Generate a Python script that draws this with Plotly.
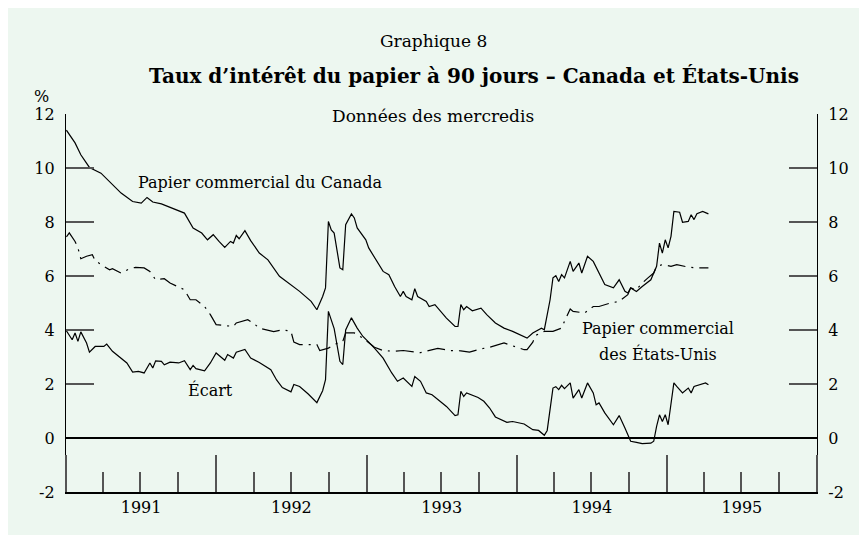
import pandas as pd
import plotly.graph_objects as go

# Weekly (Wednesday) observations, indexed by week number from 2 Jan 1991
start = pd.Timestamp("1991-01-02")

can_weeks = [0, 3, 5, 8, 12, 16, 19, 23, 26, 28, 30, 33, 35, 38, 41, 44, 47, 49, 51, 53,
             55, 57, 58, 59, 60, 62, 64, 67, 70, 74, 78, 81, 85, 87, 89, 90, 91, 92, 93, 95,
             96, 97, 99, 100, 101, 104, 105, 107, 108, 110, 112, 114, 116, 117, 118, 120, 121, 122, 125, 126,
             128, 130, 132, 135, 136, 137, 138, 139, 141, 144, 146, 149, 152, 155, 160, 162, 165, 166, 168, 169,
             170, 171, 172, 173, 175, 176, 178, 179, 181, 183, 185, 187, 190, 192, 194, 195, 196, 198, 200, 203,
             205, 206, 207, 208, 209, 210, 211, 213, 214, 216, 217, 218, 219, 221, 223]
can_rates = [11.40, 10.93, 10.49, 10.02, 9.81, 9.38, 9.07, 8.76, 8.70, 8.91, 8.74, 8.67, 8.58, 8.46, 8.33, 7.78, 7.59, 7.34, 7.53, 7.28,
             7.06, 7.28, 7.22, 7.50, 7.38, 7.68, 7.31, 6.85, 6.60, 5.99, 5.68, 5.43, 5.06, 4.75, 5.24, 5.56, 8.02, 7.71, 7.59, 6.30,
             6.23, 7.90, 8.30, 8.15, 7.78, 7.34, 7.04, 6.67, 6.54, 6.17, 6.05, 5.61, 5.24, 5.43, 5.24, 5.12, 5.53, 5.24, 5.06, 4.87,
             4.94, 4.69, 4.44, 4.13, 4.13, 4.94, 4.75, 4.87, 4.71, 4.81, 4.57, 4.26, 4.07, 3.95, 3.70, 3.89, 4.07, 4.01, 5.12, 5.93,
             6.01, 5.80, 6.05, 5.93, 6.54, 6.17, 6.48, 6.11, 6.73, 6.54, 6.11, 5.68, 5.56, 5.86, 5.43, 5.37, 5.56, 5.43, 5.61, 5.86,
             6.36, 7.22, 6.85, 7.34, 7.04, 7.47, 8.39, 8.36, 7.99, 8.02, 8.27, 8.09, 8.31, 8.39, 8.30]

us_weeks = [0, 1, 3, 4, 5, 7, 9, 10, 13, 15, 16, 19, 22, 24, 27, 29, 31, 34, 36, 39,
            41, 43, 45, 48, 50, 52, 58, 59, 63, 65, 67, 72, 75, 78, 79, 81, 85, 87, 88, 91,
            93, 96, 97, 100, 103, 107, 110, 114, 117, 121, 123, 129, 133, 137, 140, 144, 147, 152, 156, 159,
            160, 162, 163, 166, 169, 172, 173, 175, 176, 180, 183, 185, 189, 192, 195, 196, 198, 200, 202, 204,
            205, 207, 210, 212, 216, 219, 223]
us_rates = [7.45, 7.60, 7.28, 7.04, 6.64, 6.73, 6.79, 6.57, 6.36, 6.23, 6.27, 6.11, 6.27, 6.32, 6.30, 6.17, 5.86, 5.90, 5.74, 5.58,
            5.49, 5.12, 5.12, 4.87, 4.57, 4.20, 4.13, 4.26, 4.38, 4.25, 4.07, 3.94, 4.01, 3.95, 3.55, 3.46, 3.46, 3.46, 3.24, 3.33,
            3.46, 3.58, 3.89, 3.89, 3.70, 3.36, 3.24, 3.21, 3.24, 3.18, 3.16, 3.32, 3.24, 3.23, 3.18, 3.30, 3.36, 3.52, 3.37, 3.27,
            3.27, 3.55, 3.80, 3.95, 3.95, 4.07, 4.32, 4.78, 4.69, 4.63, 4.87, 4.87, 5.00, 5.06, 5.31, 5.56, 5.49, 5.74, 5.93, 6.11,
            6.36, 6.42, 6.36, 6.42, 6.33, 6.30, 6.30]

spread_weeks = [0, 2, 3, 4, 5, 7, 8, 10, 13, 14, 16, 19, 21, 23, 25, 27, 29, 30, 31, 33,
                34, 36, 39, 41, 43, 44, 45, 48, 50, 52, 55, 56, 58, 59, 62, 64, 67, 71, 73, 75,
                78, 79, 81, 84, 87, 89, 90, 91, 92, 93, 95, 96, 97, 99, 101, 102, 103, 105, 107, 110,
                113, 115, 117, 120, 121, 123, 125, 127, 130, 132, 135, 136, 137, 138, 139, 143, 145, 147, 149, 153,
                155, 159, 162, 164, 166, 167, 169, 170, 171, 172, 173, 175, 176, 178, 179, 181, 183, 184, 185, 187,
                190, 192, 194, 196, 198, 200, 203, 204, 205, 206, 207, 208, 209, 211, 212, 214, 216, 217, 218, 220,
                222, 223]
spread_vals = [3.97, 3.64, 3.89, 3.58, 3.93, 3.52, 3.18, 3.39, 3.39, 3.48, 3.21, 2.96, 2.78, 2.44, 2.47, 2.41, 2.78, 2.59, 2.86, 2.84,
               2.71, 2.81, 2.78, 2.86, 2.53, 2.69, 2.57, 2.49, 2.78, 3.15, 2.88, 3.09, 2.96, 3.18, 3.28, 2.96, 2.80, 2.53, 2.15, 1.87,
               1.71, 1.98, 1.91, 1.63, 1.31, 1.75, 2.16, 4.69, 4.38, 4.05, 2.84, 2.72, 4.00, 4.45, 4.07, 3.89, 3.76, 3.55, 3.33, 2.96,
               2.41, 2.10, 2.22, 1.91, 2.28, 2.10, 1.67, 1.60, 1.36, 1.17, 0.83, 0.86, 1.73, 1.54, 1.67, 1.50, 1.36, 1.11, 0.78, 0.58,
               0.61, 0.52, 0.31, 0.28, 0.10, 0.28, 1.85, 1.90, 1.79, 1.95, 1.83, 2.04, 1.48, 1.79, 1.48, 2.04, 1.67, 1.23, 1.30, 0.93,
               0.49, 0.83, 0.37, -0.12, -0.16, -0.21, -0.19, -0.12, 0.43, 0.86, 0.61, 0.86, 0.49, 2.04, 1.91, 1.67, 1.85, 1.67, 1.91, 1.97,
               2.04, 1.97]

y_ticks = [-2, 0, 2, 4, 6, 8, 10, 12]
y_tick_labels = ["-2", "0", "2", "4", "6", "8", "10", "12"]


def to_dates(weeks):
    return start + pd.to_timedelta([7 * w for w in weeks], unit="D")


FONT = "DejaVu Serif"
MINT = "#EDF7F0"
TICK = "#555555"

fig = go.Figure()

fig.add_trace(go.Scatter(x=to_dates(can_weeks), y=can_rates, mode="lines",
                         line=dict(color="black", width=1.2), name="Canada"))
fig.add_trace(go.Scatter(x=to_dates(us_weeks), y=us_rates, mode="lines",
                         line=dict(color="black", width=1.2, dash="18px,6px,2px,6px"), name="États-Unis"))
fig.add_trace(go.Scatter(x=to_dates(spread_weeks), y=spread_vals, mode="lines",
                         line=dict(color="black", width=1.2), name="Écart"))
# invisible trace so the right-hand axis is drawn
fig.add_trace(go.Scatter(x=to_dates(spread_weeks), y=spread_vals, mode="lines", yaxis="y2",
                         line=dict(color="rgba(0,0,0,0)"), hoverinfo="skip", showlegend=False))

yax = dict(range=[-2, 12], tickmode="array", tickvals=y_ticks, ticktext=y_tick_labels,
           ticks="inside", ticklen=28, tickwidth=1.5, ticklabelstandoff=7,
           tickcolor=TICK, showgrid=False, showline=True, linecolor="black", linewidth=1.2,
           zeroline=False, tickfont=dict(family=FONT, size=16, color="black"))


def note(text, x, y, size=16, **kw):
    return dict(text=text, x=x, y=y, showarrow=False, yanchor="middle",
                font=dict(family=FONT, size=size, color="black"), **kw)


# page body adds an 8px offset, so the figure is 8px smaller than the window
fig.update_layout(
    width=859, height=527,
    margin=dict(l=58, r=50, t=106, b=43),
    paper_bgcolor=MINT,
    plot_bgcolor=MINT,
    showlegend=False,
    xaxis=dict(
        type="date", range=["1991-01-01", "1996-01-01"],
        tick0="1991-01-01", dtick="M12", ticklabelmode="period", tickformat="%Y",
        ticks="inside", ticklen=37, tickwidth=1.5, tickcolor=TICK,
        minor=dict(dtick="M3", ticks="inside", ticklen=20, tickwidth=1.5, tickcolor=TICK),
        showgrid=False, showline=True, linecolor="black", linewidth=1.5,
        tickfont=dict(family=FONT, size=16, color="black"),
    ),
    yaxis=yax,
    yaxis2=dict(**yax, overlaying="y", side="right"),
    # zero line drawn on top so the grey tick marks don't cover it
    shapes=[dict(type="line", xref="paper", yref="y", x0=0, x1=1, y0=0, y1=0,
                 line=dict(color="black", width=2), layer="above")],
    annotations=[
        note("Graphique 8", 0.4887, 1.193, size=17, xref="paper", yref="paper"),
        note("<b>Taux d’intérêt du papier à 90 jours – Canada et États-Unis</b>", 0.543, 1.101,
             size=20, xref="paper", yref="paper"),
        note("Données des mercredis", 0.4887, 0.995, size=17, xref="paper", yref="paper"),
        note("%", -0.032, 1.045, xref="paper", yref="paper", xanchor="center"),
        note("Papier commercial du Canada", "1991-06-20", 9.46, xanchor="left"),
        note("Papier commercial", "1994-12-10", 4.07),
        note("des États-Unis", "1994-12-10", 3.12),
        note("Écart", "1991-12-18", 1.79),
    ],
)

fig.write_html("out.html")
